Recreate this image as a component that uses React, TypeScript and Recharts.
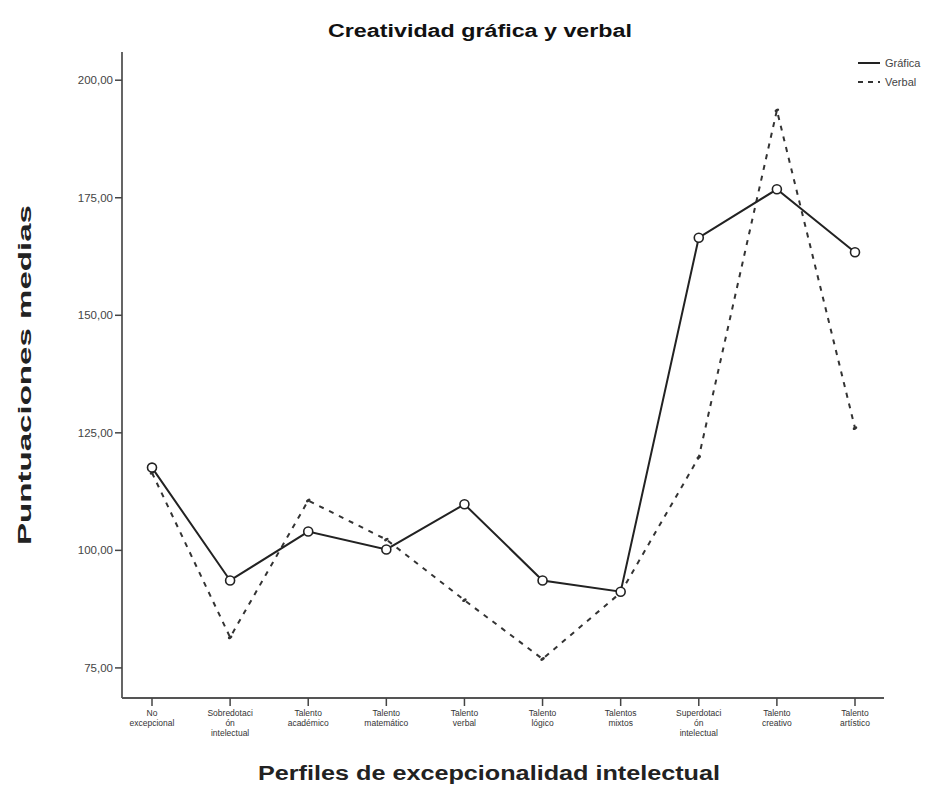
import { LineChart, Line, XAxis, YAxis } from 'recharts'

const categories = [
  'No\nexcepcional',
  'Sobredotaci\nón\nintelectual',
  'Talento\nacadémico',
  'Talento\nmatemático',
  'Talento\nverbal',
  'Talento\nlógico',
  'Talentos\nmixtos',
  'Superdotaci\nón\nintelectual',
  'Talento\ncreativo',
  'Talento\nartístico',
]
const graficaValues = [117.6, 93.6, 104.0, 100.2, 109.8, 93.6, 91.2, 166.5, 176.8, 163.4]
const verbalValues = [116.5, 81.5, 110.6, 102.3, 89.4, 76.9, 91.0, 119.8, 193.6, 126.0]
const yTicks = [75, 100, 125, 150, 175, 200]

const data = categories.map((name, i) => ({
  name,
  grafica: graficaValues[i],
  verbal: verbalValues[i],
}))

const formatTick = (v: number) => v.toFixed(2).replace('.', ',')

const XTick = ({ x, y, payload }: any) => {
  const lines = String(payload.value).split('\n')
  return (
    <text x={x} y={y + 8} textAnchor="middle" fontSize={8.5} fill="#333" fontFamily="Liberation Sans, Arial, sans-serif">
      {lines.map((l, i) => (
        <tspan key={i} x={x} dy={i === 0 ? 0 : 10}>
          {l}
        </tspan>
      ))}
    </text>
  )
}

const CircleDot = ({ cx, cy }: any) => (
  <circle cx={cx} cy={cy} r={4.5} fill="#fff" stroke="#222" strokeWidth={1.6} />
)

const SmallDot = ({ cx, cy }: any) => (
  <ellipse cx={cx} cy={cy} rx={2.5} ry={1.5} fill="#333" transform={`rotate(-30 ${cx} ${cy})`} />
)

export default function App() {
  const font = 'Liberation Sans, Arial, sans-serif'
  return (
    <div style={{ position: 'relative', width: 936, height: 778, background: '#fff' }}>
      <LineChart
        width={936}
        height={778}
        data={data}
        margin={{ top: 44, right: 60, left: 0, bottom: 38 }}
      >
        <XAxis
          dataKey="name"
          interval={0}
          padding={{ left: 30, right: 29 }}
          height={50}
          tickSize={8}
          tick={<XTick />}
          axisLine={{ stroke: '#555', strokeWidth: 1.8 }}
          tickLine={{ stroke: '#444', strokeWidth: 1.5 }}
        />
        <YAxis
          domain={[68.6, 206]}
          ticks={yTicks}
          width={114}
          tickSize={7}
          tickMargin={2}
          tickFormatter={formatTick}
          tick={{ fontSize: 11.5, fill: '#444', fontFamily: font }}
          axisLine={{ stroke: '#555', strokeWidth: 1.8 }}
          tickLine={{ stroke: '#444', strokeWidth: 1.5 }}
        />
        <Line
          type="linear"
          dataKey="verbal"
          stroke="#333"
          strokeWidth={2}
          strokeDasharray="5 6"
          dot={<SmallDot />}
          isAnimationActive={false}
        />
        <Line
          type="linear"
          dataKey="grafica"
          stroke="#222"
          strokeWidth={2}
          dot={<CircleDot />}
          isAnimationActive={false}
        />
      </LineChart>
      <svg
        width={936}
        height={778}
        style={{ position: 'absolute', left: 0, top: 0, pointerEvents: 'none' }}
      >
        <text x={472} y={29} textAnchor="middle" fontSize={18} fontWeight="bold" fontFamily={font} fill="#111"
          textLength={304} lengthAdjust="spacingAndGlyphs">
          Creatividad gráfica y verbal
        </text>
        <text transform="rotate(-90 16 367)" x={16} y={367} textAnchor="middle" dominantBaseline="central"
          fontSize={19} fontWeight="bold" fontFamily={font} fill="#222" textLength={340} lengthAdjust="spacingAndGlyphs">
          Puntuaciones medias
        </text>
        <text x={481} y={772} textAnchor="middle" fontSize={20} fontWeight="bold" fontFamily={font} fill="#222"
          textLength={462} lengthAdjust="spacingAndGlyphs">
          Perfiles de excepcionalidad intelectual
        </text>
        <line x1={850} y1={55} x2={872} y2={55} stroke="#222" strokeWidth={2} />
        <text x={877} y={59} fontSize={11} fontFamily={font} fill="#444">Gráfica</text>
        <line x1={850} y1={74} x2={872} y2={74} stroke="#333" strokeWidth={2} strokeDasharray="5 5" />
        <text x={877} y={78} fontSize={11} fontFamily={font} fill="#444">Verbal</text>
      </svg>
    </div>
  )
}
